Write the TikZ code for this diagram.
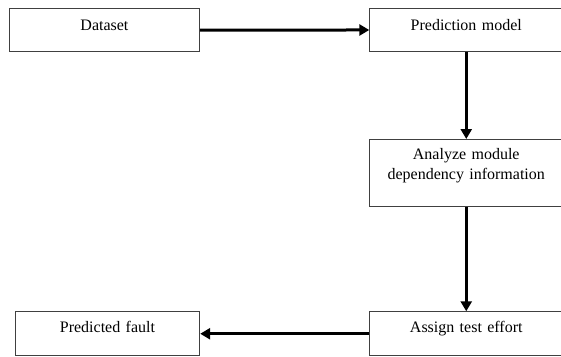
\documentclass[tikz,border=0pt]{standalone}
\usepackage{fontspec}
\setmainfont{Liberation Serif}
\usepackage{tikz}
\usetikzlibrary{arrows.meta,positioning}

\begin{document}
\begin{tikzpicture}[x=1pt, y=-1pt,
    stage/.style={draw=black!75, line width=0.9pt, inner sep=0pt, anchor=north west,
        align=center, font=\fontsize{16}{20}\selectfont},
    flow/.style={-{Triangle[length=10pt,width=11pt]}, line width=3pt}]
    \useasboundingbox (0,0) rectangle (561,356);

    % Boxes
    \node[stage, text width=190.6pt, text height=22pt, text depth=20.7pt] (dataset) at (8.7,8.3) {Dataset};
    \node[stage, text width=193pt, text height=22pt, text depth=21pt] (predmodel) at (369.3,8) {Prediction model};
    \node[stage, text width=193pt, text height=20.3pt, text depth=46.4pt] (analyze) at (369.3,139)
        {Analyze module\\dependency information};
    \node[stage, text width=193pt, text height=20.4pt, text depth=23.6pt] (assign) at (369.3,311.3) {Assign test effort};
    \node[stage, text width=184.6pt, text height=20.4pt, text depth=23.6pt] (predfault) at (14.7,311.3) {Predicted fault};

    % Arrows
    \draw[flow] (dataset) -- (predmodel);
    \draw[flow] (predmodel) -- (analyze);
    \draw[flow] (analyze) -- (assign);
    \draw[flow] (assign) -- (predfault);
\end{tikzpicture}
\end{document}
